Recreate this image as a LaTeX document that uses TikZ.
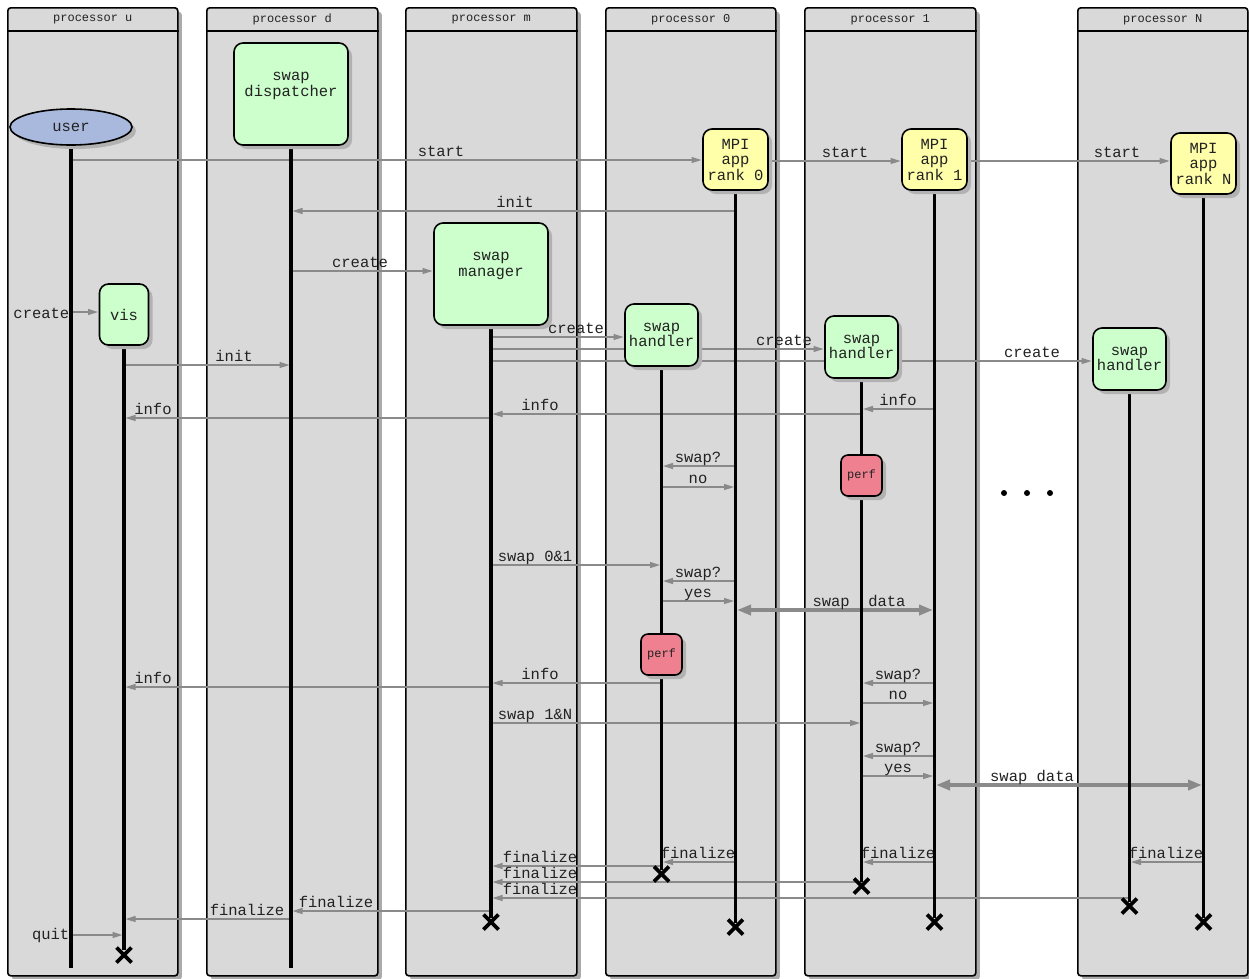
\documentclass[tikz,border=0pt]{standalone}
\usepackage{fontspec}
\newfontfamily\cour{Liberation Mono}
\usetikzlibrary{shadows,arrows.meta,calc,shapes.geometric}
\definecolor{procfill}{HTML}{D9D9D9}
\definecolor{shadowgray}{HTML}{ABABAB}
\definecolor{nshadow}{HTML}{B2B2B2}
\definecolor{nodegreen}{HTML}{CCFFCC}
\definecolor{nodeyellow}{HTML}{FFFFAA}
\definecolor{nodepink}{HTML}{EE8090}
\definecolor{nodeblue}{HTML}{A9B9DD}
\definecolor{msggray}{HTML}{8A8A8A}
\definecolor{txt}{HTML}{222222}
\tikzset{
  proc/.style={draw=black, line width=1.6pt, fill=procfill, rounded corners=3pt, inner sep=0pt,
    minimum height=968pt, anchor=north west,
    drop shadow={shadow xshift=4pt, shadow yshift=-4pt, fill=shadowgray, opacity=1}},
  hdr/.style={font=\cour\fontsize{12}{12}\selectfont, inner sep=0pt, text=txt},
  obj/.style={draw=black, line width=1.6pt, rounded corners=9pt, inner sep=0pt, align=center,
    font=\cour\fontsize{15.5}{15.5}\selectfont, text=txt,
    drop shadow={shadow xshift=4pt, shadow yshift=-4pt, fill=nshadow, opacity=1}},
  greenbox/.style={obj, fill=nodegreen},
  yellowbox/.style={obj, fill=nodeyellow, minimum width=65pt, minimum height=61pt},
  handlerbox/.style={greenbox, minimum width=73pt, minimum height=62pt},
  perfbox/.style={obj, fill=nodepink, rounded corners=7pt, minimum width=41pt, minimum height=41pt,
    font=\cour\fontsize{12}{12}\selectfont},
  life/.style={draw=black, line width=3.2pt},
  msgline/.style={draw=msggray, line width=1.4pt, -{Triangle[length=10pt,width=6pt]}, shorten >=1.5pt},
  dataline/.style={draw=msggray, line width=4pt, {Triangle[length=14pt,width=10pt]}-{Triangle[length=14pt,width=10pt]}, shorten >=1.5pt, shorten <=1.5pt},
  lbl/.style={font=\cour\fontsize{15.5}{15.5}\selectfont, anchor=base, yshift=3.5pt, inner sep=0pt, text=txt},
  sidelbl/.style={font=\cour\fontsize{15.5}{15.5}\selectfont, anchor=east, inner sep=1.5pt, text=txt},
  xm/.style={draw=black, line width=3.6pt},
}
\newcommand\msg[5]{\draw[msgline] (#1 |- 0,#3) -- (#2 |- 0,#3); \node[lbl] at (#4,#3) {#5};}
\newcommand\xmk[1]{\draw[xm] ($(#1)+(-7.5,-7.5)$) -- ($(#1)+(7.5,7.5)$); \draw[xm] ($(#1)+(-7.5,7.5)$) -- ($(#1)+(7.5,-7.5)$);}
\begin{document}
\begin{tikzpicture}[x=1pt,y=-1pt]
\fill[white] (0,0) rectangle (1249,978);
\useasboundingbox (0,0) rectangle (1249,978);
% processor boxes
\node[proc, minimum width=170pt] (pu) at (7,7) {};
\node[proc, minimum width=171pt] (pd) at (206,7) {};
\node[proc, minimum width=171pt] (pm) at (405,7) {};
\node[proc, minimum width=170pt] (p0) at (605,7) {};
\node[proc, minimum width=171pt] (p1) at (804,7) {};
\node[proc, minimum width=170pt] (pN) at (1077,7) {};
\foreach \p/\t in {pu/u, pd/d, pm/m, p0/0, p1/1, pN/N}{
  \draw[line width=1.6pt] (\p.north west |- 0,31) -- (\p.north east |- 0,31);
  \node[hdr] (\p-title) at ($(\p.north)+(0,12.5)$) {processor \t};
}
% object coordinates
\coordinate (user) at (71,127);
\coordinate (vis) at (124,314.5);
\coordinate (disp) at (291,94);
\coordinate (mgr) at (491,274);
\coordinate (r0) at (735.5,159.5);
\coordinate (r1) at (934.5,159.5);
\coordinate (rN) at (1203.5,163.5);
\coordinate (h0) at (661.5,335);
\coordinate (h1) at (861.5,347);
\coordinate (hN) at (1129.5,359);
\coordinate (r0w) at ($(r0)+(-32.5,0)$);
\coordinate (r0e) at ($(r0)+(32.5,0)$);
\coordinate (r1w) at ($(r1)+(-32.5,0)$);
\coordinate (r1e) at ($(r1)+(32.5,0)$);
\coordinate (rNw) at ($(rN)+(-32.5,0)$);
\coordinate (mgrw) at ($(mgr)+(-57,0)$);
\coordinate (visw) at ($(vis)+(-24.5,0)$);
\coordinate (h0w) at ($(h0)+(-36.5,0)$);
\coordinate (h1w) at ($(h1)+(-36.5,0)$);
\coordinate (hNw) at ($(hN)+(-36.5,0)$);
% messages
\msg{user}{r0w}{160}{441}{start}
\msg{r0e}{r1w}{161}{845}{start}
\msg{r1e}{rNw}{161}{1117}{start}
\msg{r0}{disp}{211}{515}{init}
\msg{disp}{mgrw}{271}{360}{create}
\draw[msgline] (user |- 0,312) -- (visw |- 0,312);
\node[sidelbl] at (user |- 0,313) {create};
\msg{vis}{disp}{365}{234}{init}
\msg{mgr}{h0w}{337}{576}{create}
\msg{mgr}{h1w}{349}{784}{create}
\msg{mgr}{hNw}{361}{1032}{create}
\msg{r1}{h1}{409}{898}{info}
\msg{h1}{mgr}{414}{540}{info}
\msg{mgr}{vis}{418}{153}{info}
\msg{r0}{h0}{466}{698}{swap?}
\msg{h0}{r0}{487}{698}{no}
\msg{mgr}{h0}{565}{535}{swap 0\&1}
\msg{r0}{h0}{581}{698}{swap?}
\msg{h0}{r0}{601}{698}{yes}
\draw[dataline] (r0 |- 0,610) -- (r1 |- 0,610);
\node[lbl] at (859,610) {swap\ \ data};
\msg{h0}{mgr}{683}{540}{info}
\msg{mgr}{vis}{687}{153}{info}
\msg{r1}{h1}{683}{898}{swap?}
\msg{h1}{r1}{703}{898}{no}
\msg{mgr}{h1}{723}{535}{swap 1\&N}
\msg{r1}{h1}{756}{898}{swap?}
\msg{h1}{r1}{776}{898}{yes}
\draw[dataline] (r1 |- 0,785) -- (rN |- 0,785);
\node[lbl] at (1032,785) {swap data};
\msg{rN}{hN}{862}{1166}{finalize}
\msg{r1}{h1}{862}{898}{finalize}
\msg{r0}{h0}{862}{698}{finalize}
\msg{h0}{mgr}{866}{540}{finalize}
\msg{h1}{mgr}{882}{540}{finalize}
\msg{hN}{mgr}{898}{540}{finalize}
\msg{mgr}{disp}{911}{336}{finalize}
\msg{disp}{vis}{919}{247}{finalize}
\draw[msgline] (user |- 0,935) -- (vis |- 0,935);
\node[sidelbl] at (user |- 0,935) {quit};
% lifelines
\draw[life] (user) -- (user |- 0,968);
\draw[life] (vis) -- (vis |- 0,950);
\draw[life] (disp) -- (disp |- 0,968);
\draw[life] (mgr) -- (mgr |- 0,918);
\draw[life] (r0) -- (r0 |- 0,923);
\draw[life] (r1) -- (r1 |- 0,918);
\draw[life] (rN) -- (rN |- 0,918);
\draw[life] (h0) -- (h0 |- 0,870);
\draw[life] (h1) -- (h1 |- 0,882);
\draw[life] (hN) -- (hN |- 0,902);
% end marks
\coordinate (visX) at (vis |- 0,955);
\coordinate (mgrX) at (mgr |- 0,922);
\coordinate (r0X) at (r0 |- 0,927);
\coordinate (r1X) at (r1 |- 0,922);
\coordinate (rNX) at (rN |- 0,922);
\coordinate (h0X) at (h0 |- 0,874);
\coordinate (h1X) at (h1 |- 0,886);
\coordinate (hNX) at (hN |- 0,906);
\foreach \c in {visX,mgrX,r0X,r1X,rNX,h0X,h1X,hNX}{\xmk{\c}}
% objects
\node[ellipse, draw=black, line width=1.6pt, fill=nodeblue, minimum width=122pt, minimum height=36pt, inner sep=0pt,
  font=\cour\fontsize{15.5}{15.5}\selectfont, text=txt,
  drop shadow={shadow xshift=4pt, shadow yshift=-4pt, fill=nshadow, opacity=1}] (userN) at (user) {user};
\node[greenbox, minimum width=49pt, minimum height=61pt] (visN) at (vis) {vis};
\node[greenbox, minimum width=114pt, minimum height=102pt,
  label={[font=\cour\fontsize{15.5}{16.5}\selectfont, text=txt, align=center, yshift=8pt]center:swap\\dispatcher}] (dispN) at (disp) {};
\node[greenbox, minimum width=114pt, minimum height=102pt,
  label={[font=\cour\fontsize{15.5}{16.5}\selectfont, text=txt, align=center, yshift=8pt]center:swap\\manager}] (mgrN) at (mgr) {};
\node[yellowbox] (r0N) at (r0) {MPI\\app\\rank 0};
\node[yellowbox] (r1N) at (r1) {MPI\\app\\rank 1};
\node[yellowbox] (rNN) at (rN) {MPI\\app\\rank N};
\node[handlerbox] (h0N) at (h0) {swap\\handler};
\node[handlerbox] (h1N) at (h1) {swap\\handler};
\node[handlerbox] (hNN) at (hN) {swap\\handler};
\node[perfbox] (perf1) at (861.5,475.5) {perf};
\node[perfbox] (perf0) at (661.5,654.5) {perf};
% ellipsis
\foreach \xx in {1004,1027,1050}{\fill (\xx,493) circle (3pt);}
\end{tikzpicture}
\end{document}
